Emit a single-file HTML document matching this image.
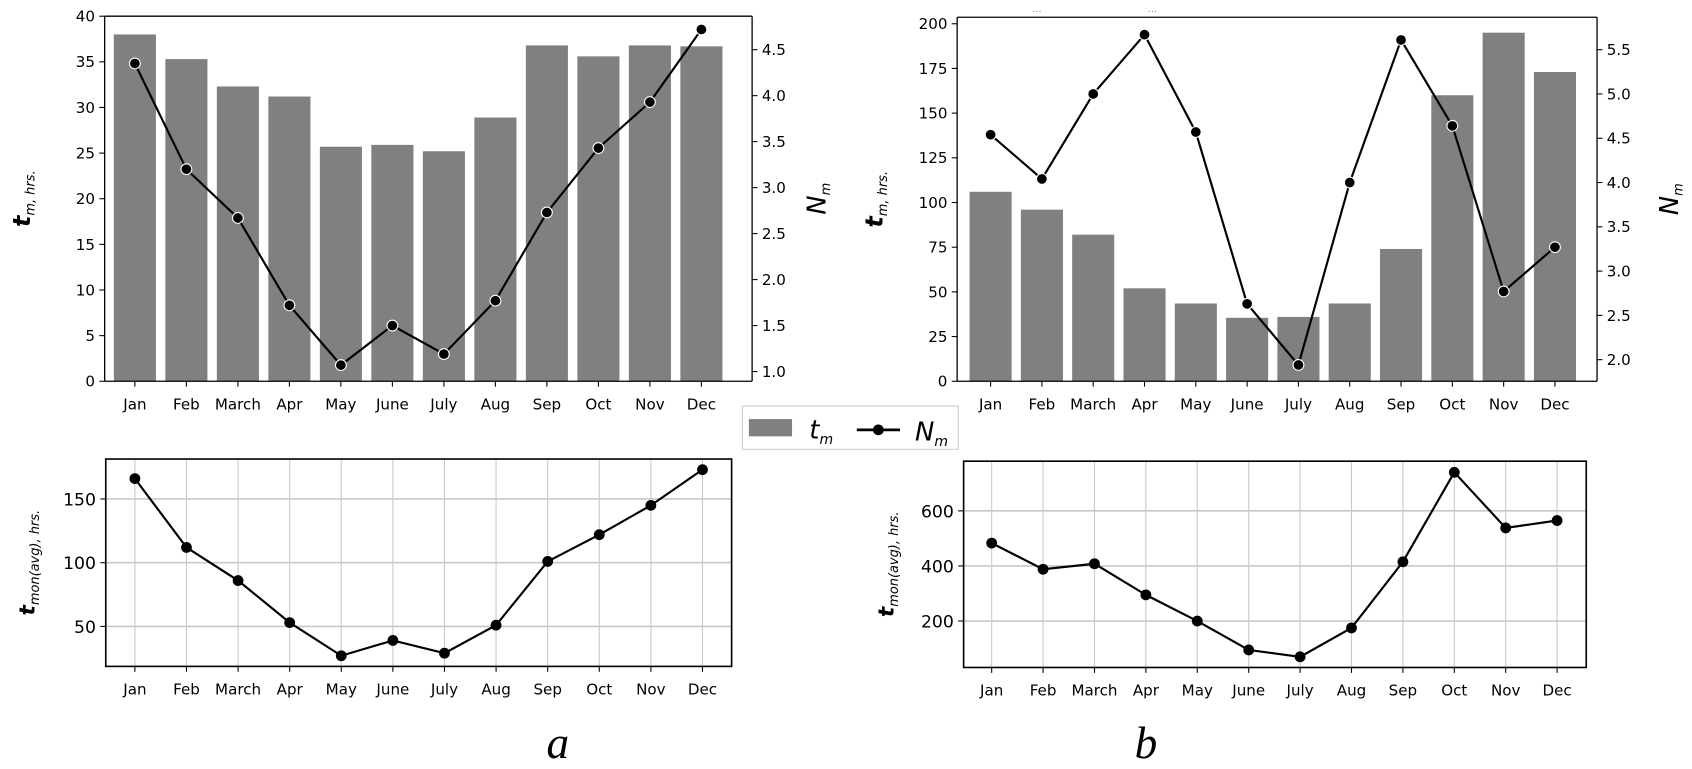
<!DOCTYPE html>
<html><head><meta charset="utf-8"><style>
html,body{margin:0;padding:0;background:#fff;}
svg{display:block;font-family:"DejaVu Sans","Liberation Sans",sans-serif;}
</style></head><body>
<svg id="fig" width="1692" height="769" viewBox="0 0 1568 712" preserveAspectRatio="none" xmlns="http://www.w3.org/2000/svg">
<rect width="1568" height="712" fill="#fff"/>
<text x="961" y="11" font-size="9" fill="#888" text-anchor="middle">...</text>
<text x="1068" y="11" font-size="9" fill="#888" text-anchor="middle">...</text>
<g>
<rect x="688" y="376" width="200" height="40" fill="#fff" stroke="#ccc"/>
<rect x="694" y="388" width="40" height="16" fill="#808080"/>
<text x="750" y="406" font-size="24" font-style="italic">t<tspan font-size="13" dy="5">m</tspan></text>
<line x1="794" y1="398" x2="834" y2="398" stroke="#000" stroke-width="2.5"/>
<circle cx="814" cy="398" r="5" fill="#000"/>
<text x="848" y="408" font-size="24" font-style="italic">N<tspan font-size="13" dy="5">m</tspan></text>
</g>
<text x="517" y="702" font-size="42" font-style="italic" font-family="Liberation Serif,serif" text-anchor="middle">a</text>
<text x="1062" y="702" font-size="42" font-style="italic" font-family="Liberation Serif,serif" text-anchor="middle">b</text>
</svg>
<script>
const months = ["Jan","Feb","March","Apr","May","June","July","Aug","Sep","Oct","Nov","Dec"];
const tmA = [38,35.3,32.3,31.2,25.7,25.9,25.2,28.9,36.8,35.6,36.8,36.7];
const nmA = [4.35,3.2,2.67,1.72,1.07,1.5,1.19,1.77,2.73,3.43,3.93,4.72];
const tmB = [106,96,82,52,43.5,35.5,36,43.5,74,160,195,173];
const nmB = [4.54,4.04,5.0,5.67,4.57,2.63,1.94,4.0,5.61,4.64,2.77,3.27];
const avgA = [166,112,86,53,27,39,29,51,101,122,145,173];
const avgB = [483,388,408,295,200,95,70,175,415,740,538,565];
const ticksLA = [0,5,10,15,20,25,30,35,40];
const ticksRA = [1.0,1.5,2.0,2.5,3.0,3.5,4.0,4.5];
const ticksLB = [0,25,50,75,100,125,150,175,200];
const ticksRB = [2.0,2.5,3.0,3.5,4.0,4.5,5.0,5.5];
const ticksAvgA = [50,100,150];
const ticksAvgB = [200,400,600];

const svg = document.getElementById('fig');
const NS = "http://www.w3.org/2000/svg";
function el(tag, attrs, parent){
  const e = document.createElementNS(NS, tag);
  for (const k in attrs) e.setAttribute(k, attrs[k]);
  (parent||svg).appendChild(e);
  return e;
}
function lin(d0,d1,r0,r1){return v=>r0+(v-d0)*(r1-r0)/(d1-d0);}

function topChart(cfg){
  const g = el('g',{});
  
  
  const x = i => cfg.x0 + i*(cfg.x11-cfg.x0)/11;
  const yL = lin(cfg.lD[0],cfg.lD[1],cfg.lR[0],cfg.lR[1]);
  const yR = lin(cfg.rD[0],cfg.rD[1],cfg.rR[0],cfg.rR[1]);
  cfg.bars.forEach((v,i)=>{
    const b = el('rect',{x:x(i)-19.5,y:yL(v),width:39,height:yL(0)-yL(v),fill:'#808080'},g);
    
    
  });
  el('path',{d:'M'+cfg.L+' '+cfg.T+'H'+cfg.R+'M'+cfg.L+' '+cfg.B+'H'+cfg.R+'M'+cfg.L+' '+cfg.T+'V'+cfg.B+'M'+cfg.R+' '+cfg.T+'V'+cfg.B,stroke:'#000','stroke-width':1.2,fill:'none'},g);
  cfg.lt.forEach(t=>{
    el('line',{x1:cfg.L-5,x2:cfg.L,y1:yL(t),y2:yL(t),stroke:'#000'},g);
    const tx = el('text',{x:cfg.L-9,y:yL(t)+5,'font-size':14,'text-anchor':'end'},g);
    tx.textContent=t;
    
    
  });
  cfg.rt.forEach(t=>{
    el('line',{x1:cfg.R,x2:cfg.R+5,y1:yR(t),y2:yR(t),stroke:'#000'},g);
    const tx = el('text',{x:cfg.R+9,y:yR(t)+5,'font-size':14},g);
    tx.textContent=t.toFixed(1);
    
    
  });
  months.forEach((m,i)=>{
    el('line',{x1:x(i),x2:x(i),y1:cfg.B,y2:cfg.B+5,stroke:'#000'},g);
    const tx = el('text',{x:x(i),y:cfg.B+26,'font-size':14,'text-anchor':'middle'},g);
    tx.textContent=m;
    
    
  });
  const ln = el('polyline',{points:cfg.line.map((v,i)=>x(i)+','+yR(v)).join(' '),fill:'none',stroke:'#000','stroke-width':2},g);
  
  
  cfg.line.forEach((v,i)=>{
    const c = el('circle',{cx:x(i),cy:yR(v),r:5,fill:'#000',stroke:'#fff','stroke-width':1},g);
    
    
  });
  const yl = el('text',{transform:'translate('+cfg.ylx+','+((cfg.T+cfg.B)/2)+') rotate(-90)','font-size':22,'font-style':'italic','font-weight':'bold','text-anchor':'middle'},g);
  yl.innerHTML='t<tspan font-size="12" font-weight="normal" dy="4">m, hrs.</tspan>';
  
  
  const yr = el('text',{transform:'translate('+cfg.yrx+','+((cfg.T+cfg.B)/2)+') rotate(-90)','font-size':24,'font-style':'italic','text-anchor':'middle'},g);
  yr.innerHTML='N<tspan font-size="12" dy="4">m</tspan>';
  
  
}

function botChart(cfg){
  const g = el('g',{});
  
  
  const x = i => cfg.x0 + i*(cfg.x11-cfg.x0)/11;
  const y = lin(cfg.d[0],cfg.d[1],cfg.r[0],cfg.r[1]);
  months.forEach((m,i)=>{
    el('line',{x1:x(i),x2:x(i),y1:cfg.T,y2:cfg.B,stroke:'#c8c8c8'},g);
    el('line',{x1:x(i),x2:x(i),y1:cfg.B,y2:cfg.B+5,stroke:'#000'},g);
    const tx = el('text',{x:x(i),y:cfg.B+26,'font-size':14,'text-anchor':'middle'},g);
    tx.textContent=m;
    
    
  });
  cfg.t.forEach(t=>{
    el('line',{x1:cfg.L,x2:cfg.R,y1:y(t),y2:y(t),stroke:'#c8c8c8','stroke-width':1.5},g);
    el('line',{x1:cfg.L-5,x2:cfg.L,y1:y(t),y2:y(t),stroke:'#000'},g);
    const tx = el('text',{x:cfg.L-9,y:y(t)+6,'font-size':16,'text-anchor':'end'},g);
    tx.textContent=t;
    
    
  });
  el('rect',{x:cfg.L,y:cfg.T,width:cfg.R-cfg.L,height:cfg.B-cfg.T,fill:'none',stroke:'#000','stroke-width':1.5},g);
  const ln = el('polyline',{points:cfg.v.map((v,i)=>x(i)+','+y(v)).join(' '),fill:'none',stroke:'#000','stroke-width':2},g);
  
  
  cfg.v.forEach((v,i)=>{
    const c = el('circle',{cx:x(i),cy:y(v),r:5,fill:'#000'},g);
    
    
  });
  const yl = el('text',{transform:'translate('+cfg.ylx+','+((cfg.T+cfg.B)/2)+') rotate(-90)','font-size':20,'font-style':'italic','font-weight':'bold','text-anchor':'middle'},g);
  yl.innerHTML='t<tspan font-size="12" font-weight="normal" dy="4">mon(avg), hrs.</tspan>';
  
  
}

topChart({name:'chart-a-top',L:97,R:697,T:15,B:353,x0:125,x11:650,lD:[0,40],lR:[353,15],rD:[1,4.5],rR:[344,46],bars:tmA,line:nmA,lt:ticksLA,rt:ticksRA,ylx:28,yrx:765});
topChart({name:'chart-b-top',L:887,R:1480,T:16,B:353,x0:918,x11:1441,lD:[0,200],lR:[353,22],rD:[2,5.5],rR:[333,46],bars:tmB,line:nmB,lt:ticksLB,rt:ticksRB,ylx:818,yrx:1555});
botChart({name:'chart-a-bottom',L:98,R:678,T:425,B:617,x0:125,x11:651,d:[50,150],r:[580,462],v:avgA,t:ticksAvgA,ylx:32});
botChart({name:'chart-b-bottom',L:893,R:1470,T:427,B:618,x0:919,x11:1443,d:[200,600],r:[575,473],v:avgB,t:ticksAvgB,ylx:828});
</script>
</body></html>
